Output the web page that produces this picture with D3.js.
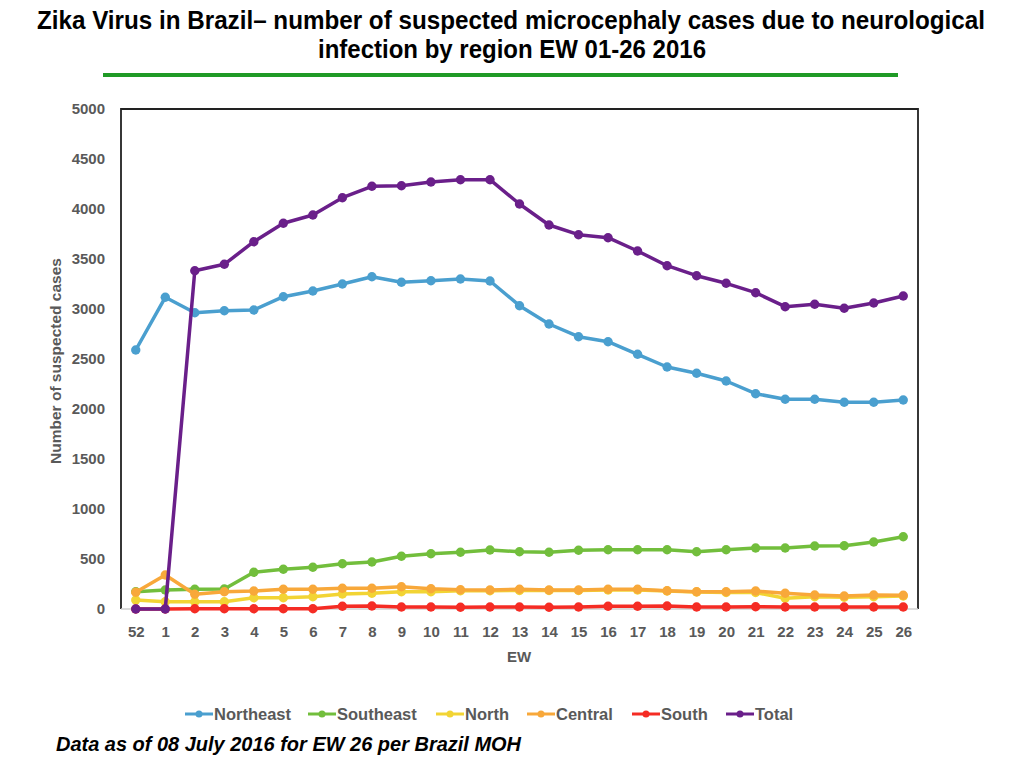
<!DOCTYPE html>
<html><head><meta charset="utf-8">
<script src="https://cdn.jsdelivr.net/npm/d3@7/dist/d3.min.js"></script>
<style>
body{margin:0;background:#fff;}
svg{display:block;}
</style></head>
<body>
<svg id="chart" width="1024" height="768"></svg>
<script>
const weeks = ["52","1","2","3","4","5","6","7","8","9","10","11","12","13","14","15","16","17","18","19","20","21","22","23","24","25","26"];
const northeast = [2590,3117,2963,2983,2990,3123,3180,3250,3323,3267,3283,3300,3280,3033,2850,2723,2673,2547,2420,2357,2280,2153,2097,2097,2067,2067,2090];
const southeast = [173,190,197,200,367,397,417,453,470,527,553,567,590,573,567,587,593,593,593,573,593,610,610,630,633,670,722];
const north = [90,73,73,73,113,113,123,150,157,173,173,183,183,185,185,185,190,190,180,170,165,165,107,123,117,123,130];
const central = [167,340,147,173,180,197,197,207,207,223,203,193,190,197,190,190,197,197,183,173,173,180,157,140,130,140,137];
const south = [0,0,3,3,3,3,3,27,30,20,20,17,20,20,18,20,27,27,30,20,20,22,20,20,20,20,20];
const total = [0,0,3383,3447,3673,3857,3940,4113,4227,4233,4270,4293,4293,4050,3840,3743,3713,3580,3433,3333,3257,3163,3023,3047,3007,3060,3130];
const yTicks = [0,500,1000,1500,2000,2500,3000,3500,4000,4500,5000];
const seriesNames = ["Northeast","Southeast","North","Central","South","Total"];
const seriesValues = [northeast,southeast,north,central,south,total];
const seriesColors = ["#4a9fcf","#72be3c","#f2d434","#f8a83a","#f52c24","#6a1f8a"];

const svg = d3.select("#chart");
const L = 121, R = 918, T = 109, B = 609;
const x = d3.scalePoint().domain(weeks).range([L, R]).padding(0.5);
const y = d3.scaleLinear().domain([0, 5000]).range([B, T]);

// Title
const narrow = "'Liberation Sans Narrow','Arial Narrow','Liberation Sans',Arial,sans-serif";
svg.append("text").attr("x", 511).attr("y", 29).attr("text-anchor","middle")
  .attr("font-family", narrow).attr("font-weight","bold").attr("font-size", 25).attr("fill","#000")
  .attr("textLength", 948).attr("lengthAdjust","spacingAndGlyphs")
  .text("Zika Virus in Brazil\u2013  number of  suspected microcephaly cases due to neurological");
svg.append("text").attr("x", 512).attr("y", 58).attr("text-anchor","middle")
  .attr("font-family", narrow).attr("font-weight","bold").attr("font-size", 25).attr("fill","#000")
  .attr("textLength", 388).attr("lengthAdjust","spacingAndGlyphs")
  .text("infection by region EW 01-26 2016");
svg.append("rect").attr("x",103).attr("y",73).attr("width",795).attr("height",4).attr("fill","#1f9a26");

// Y ticks
const gy = svg.append("g")
  .attr("transform", `translate(${L},0)`)
  .call(d3.axisLeft(y).tickValues(yTicks).tickSize(0).tickPadding(16).tickFormat(d3.format("d")));
gy.select(".domain").remove();
gy.selectAll("text").attr("font-family","'Liberation Sans',Arial,sans-serif").attr("font-weight","bold")
  .attr("font-size",15).attr("fill","#595959");

// X ticks
const gx = svg.append("g")
  .attr("transform", `translate(0,${B})`)
  .call(d3.axisBottom(x).tickSize(0).tickPadding(17));
gx.select(".domain").remove();
gx.selectAll("text").attr("font-family","'Liberation Sans',Arial,sans-serif").attr("font-weight","bold")
  .attr("font-size",15).attr("fill","#595959");

// Frame
svg.append("path").attr("d", `M${L},${B}V${T}H${R}V${B}`).attr("fill","none").attr("stroke","#222").attr("stroke-width",1.8);
svg.append("line").attr("x1",L).attr("x2",R).attr("y1",B).attr("y2",B).attr("stroke","#d0d0d0").attr("stroke-width",1.5);

// Axis titles
svg.append("text").attr("transform","translate(61,361) rotate(-90)").attr("text-anchor","middle")
  .attr("font-family","'Liberation Sans',Arial,sans-serif").attr("font-weight","bold").attr("font-size",15.5)
  .attr("fill","#595959").text("Number of suspected cases");
svg.append("text").attr("x",519).attr("y",662).attr("text-anchor","middle")
  .attr("font-family","'Liberation Sans',Arial,sans-serif").attr("font-weight","bold").attr("font-size",15)
  .attr("fill","#595959").text("EW");

// Series
const line = d3.line().x((d,i)=>x(weeks[i])).y(d=>y(d));
seriesValues.forEach((vals, si) => {
  const g = svg.append("g");
  g.append("path").datum(vals).attr("d", line).attr("fill","none")
    .attr("stroke", seriesColors[si]).attr("stroke-width",3.5).attr("stroke-linejoin","round");
  g.selectAll("circle").data(vals).join("circle")
    .attr("cx",(d,i)=>x(weeks[i])).attr("cy",d=>y(d)).attr("r",4.7).attr("fill",seriesColors[si]);
});

// Legend
const legendX = [185, 308, 436, 527, 632, 726];
const lg = svg.append("g");
seriesNames.forEach((n, i) => {
  const g = lg.append("g").attr("transform", `translate(${legendX[i]},714)`);
  g.append("line").attr("x1",0).attr("x2",28).attr("y1",0).attr("y2",0).attr("stroke",seriesColors[i]).attr("stroke-width",3);
  g.append("circle").attr("cx",14).attr("cy",0).attr("r",3.5).attr("fill",seriesColors[i]);
  g.append("text").attr("x",29).attr("y",6).attr("font-family","'Liberation Sans',Arial,sans-serif")
    .attr("font-weight","bold").attr("font-size",16.5).attr("fill","#595959").text(n);
});

// Footnote
svg.append("text").attr("x",56).attr("y",751)
  .attr("font-family", narrow).attr("font-weight","bold").attr("font-style","italic").attr("font-size",20)
  .attr("fill","#000").attr("textLength",465).attr("lengthAdjust","spacingAndGlyphs")
  .text("Data as of 08 July 2016 for EW 26 per Brazil MOH");
</script>
</body></html>
